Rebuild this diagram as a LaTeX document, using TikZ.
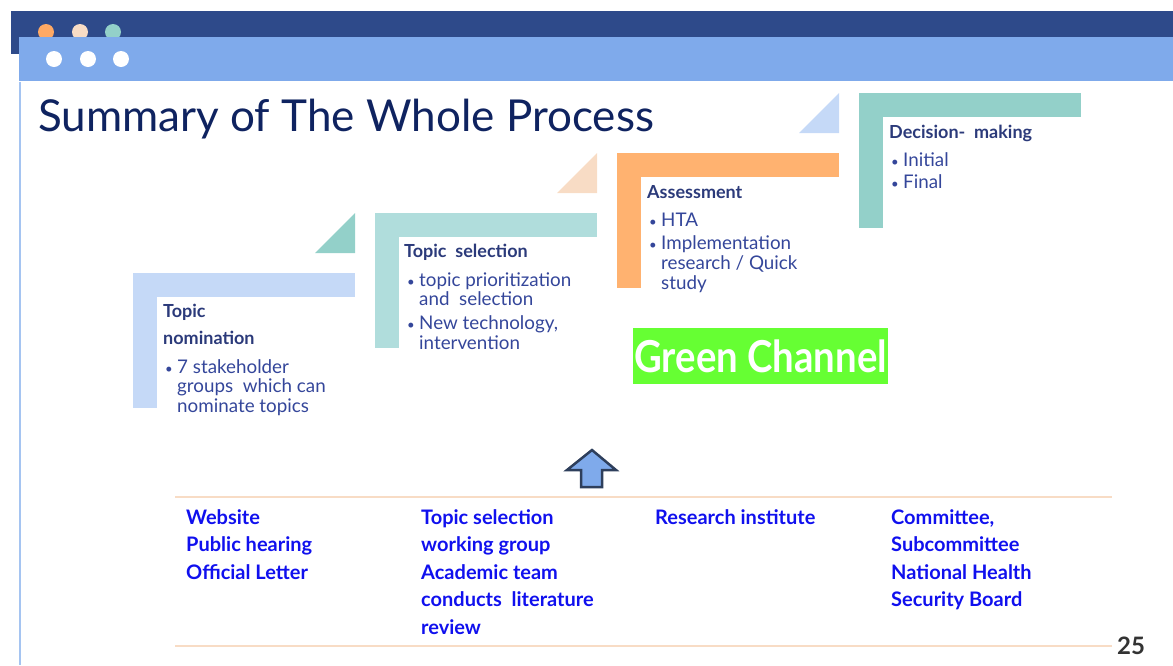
\documentclass[tikz,border=0pt]{standalone}
\usepackage{fontspec}
\setmainfont{Lato}
\usetikzlibrary{calc}

\definecolor{navybar}{HTML}{2E4A8A}
\definecolor{skybar}{HTML}{7FAAEB}
\definecolor{stepblue}{HTML}{C5D9F7}
\definecolor{stepaqua}{HTML}{B0DDDC}
\definecolor{steporange}{HTML}{FFB270}
\definecolor{stepteal}{HTML}{93D0C9}
\definecolor{peach}{HTML}{F8DCC5}
\definecolor{dotorange}{HTML}{FFA964}
\definecolor{headink}{HTML}{2B3A7A}
\definecolor{bulletink}{HTML}{34469A}
\definecolor{titleink}{HTML}{0F2360}
\definecolor{linkblue}{HTML}{1010EE}
\definecolor{channel}{HTML}{66FF33}
\definecolor{arrowink}{HTML}{2E3F5C}

% lines hang from the baseline of the first one
\newcommand\lines[1]{\begin{tabular}[t]{@{}l@{}}#1\end{tabular}}
\newcommand\bul{\makebox[12pt][l]{\scalebox{0.7}{\textbullet}}}
\newcommand\ind{\hspace*{12pt}}

\begin{document}
\begin{tikzpicture}[x=1pt,y=-1pt,
    head/.style={anchor=base west,inner sep=0pt,text=headink,
      font=\fontsize{18}{27}\bfseries\selectfont},
    item/.style={anchor=base west,inner sep=0pt,text=bulletink,
      font=\fontsize{18.8}{19.5}\selectfont},
    who/.style={anchor=base west,inner sep=0pt,text=linkblue,
      font=\fontsize{20}{27.5}\bfseries\selectfont}]
  \useasboundingbox (0,0) rectangle (1173,665);

  % window frame
  \fill[navybar] (11,11) rectangle (1173,54);
  \foreach \x/\c in {46/dotorange,80/peach,113/stepteal}
    \fill[\c] (\x,32) circle [radius=8];
  \fill[skybar] (19,37) rectangle (1173,81);
  \foreach \x in {54,88,121}
    \fill[white] (\x,59) circle [radius=8];
  \draw[skybar!70,line width=1.5pt] (20,82) -- (20,665);
  \node[anchor=base west,inner sep=0pt,text=titleink,font=\fontsize{44}{44}\selectfont]
    (title) at (38,131) {Summary of The Whole Process};

  % steps: one L-shaped bar per stage, a wedge before the next one
  \foreach[evaluate={133+242*\i} as \x,evaluate={273-60*\i} as \y] \i/\c in {0/stepblue,1/stepaqua,2/steporange,3/stepteal} {
    \fill[\c] (\x,\y) rectangle ++(222,24);
    \fill[\c] (\x,\y) rectangle ++(24,135);
  }
  \foreach[evaluate={355+242*\i} as \x,evaluate={253-60*\i} as \y] \i/\c in {0/stepteal,1/peach,2/stepblue}
    \fill[\c] (\x,\y) -- ++(-40,0) -- ++(40,-40) -- cycle;

  \node[head] (nom) at (163,317) {\lines{Topic\\nomination}};
  \node[item] (nomtext) at (165,373) {\lines{\bul 7 stakeholder\\\ind groups~ which can\\\ind nominate topics}};
  \node[head] (sel) at (404,257) {Topic~ selection};
  \node[item] (seltext) at (407,286) {\lines{\bul topic prioritization\\\ind and~ selection\\[4pt]\bul New technology,\\\ind intervention}};
  \node[head] (ass) at (647,198) {Assessment};
  \node[item] (asstext) at (649,226) {\lines{\bul HTA\\[4pt]\bul Implementation\\\ind research / Quick\\\ind study}};
  \node[head] (dec) at (889,138) {Decision-~ making};
  \node[item] (dectext) at (891,166) {\lines{\bul Initial\\[3pt]\bul Final}};

  \node[fill=channel,anchor=north west,minimum width=255,minimum height=56,inner sep=0pt,
    text=white,font=\fontsize{44}{44}\bfseries\selectfont] (green) at (633,328)
    {\scalebox{0.87}[1]{Green Channel}};

  % block arrow
  \draw[fill=skybar,draw=arrowink,line width=2.5pt,line join=miter]
    (592,450) -- (616,470) -- (602,470) -- (602,487) -- (581,487) -- (581,470) -- (567,470) -- cycle;

  % who does what
  \draw[peach,line width=2pt] (175,497) -- (1112,497);
  \draw[peach,line width=2pt] (175,646) -- (1112,646);
  \node[who] (web) at (186,524) {\lines{Website\\Public hearing\\Official Letter}};
  \node[who] (group) at (421,524) {\lines{Topic selection\\working group\\Academic team\\conducts~ literature\\review}};
  \node[who] (inst) at (655,524) {Research institute};
  \node[who] (board) at (891,524) {\lines{Committee,\\Subcommittee\\National Health\\Security Board}};

  \node[anchor=base west,inner sep=0pt,text=black!80,font=\fontsize{24}{24}\bfseries\selectfont]
    (page) at (1117,654) {25};
\end{tikzpicture}
\end{document}
